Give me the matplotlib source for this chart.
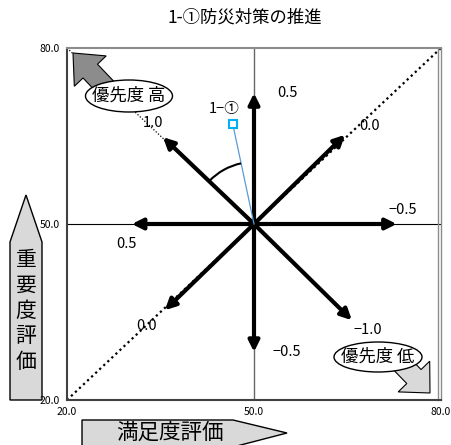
import numpy as np
import matplotlib
matplotlib.use("Agg")
import matplotlib.pyplot as plt
import matplotlib.patches as mpatches
import matplotlib.transforms as mtransforms

plt.rcParams['font.family'] = ['Noto Sans CJK JP', 'DejaVu Sans']

# データ
title = "1-①防災対策の推進"
tick_vals = [20, 50, 80]
tick_labels = ["20.0", "50.0", "80.0"]
center = (50, 50)

# 矢印の先端 (満足度, 重要度) と値ラベル
arrow_x = [50.0, 35.4, 64.6, 72.9, 30.4, 35.7, 65.7, 50.0]
arrow_y = [72.3, 64.8, 65.2, 50.0, 50.0, 35.3, 33.6, 28.2]
arrow_vals = ["0.5", "1.0", "0.0", "−0.5", "0.5", "0.0", "−1.0", "−0.5"]
label_x = [55.3, 33.8, 68.6, 73.9, 29.6, 32.7, 68.3, 55.3]
label_y = [72.3, 67.2, 66.7, 52.4, 46.6, 32.6, 31.9, 28.2]

# 施策の位置
item_name = "1−①"
item_x = 46.6
item_y = 67.0

W, H = 451, 445
fig = plt.figure(figsize=(W / 100, H / 100), dpi=100)
ax = fig.add_axes([67 / W, 1 - 400 / H, 374 / W, 352 / H])
ax.set_xlim(20, 80)
ax.set_ylim(20, 80)

ax.set_xticks(tick_vals)
ax.set_xticklabels(tick_labels)
ax.set_yticks(tick_vals)
ax.set_yticklabels(tick_labels)
ax.tick_params(length=0, labelsize=7.5, pad=5)

for s in ["left", "bottom"]:
    ax.spines[s].set_color("#404040")
    ax.spines[s].set_linewidth(1.5)
ax.spines["top"].set_color("#8c8c8c")
ax.spines["top"].set_linewidth(1.5)
ax.spines["right"].set_color("#8c8c8c")
ax.spines["right"].set_linewidth(1.0)
ax.plot([0.992, 0.992], [0, 1], transform=ax.transAxes, color="#8c8c8c", lw=1.0, clip_on=False)

# 中心線と対角線
ax.axvline(center[0], color="#666666", lw=1.0, zorder=1)
ax.axhline(center[1], color="black", lw=0.8, zorder=1)
ax.plot([20, 80], [20, 80], color="black", lw=1.6, ls=(0, (1, 1.5)), zorder=1)
ax.plot([20, center[0]], [80, center[1]], color="black", lw=0.9, ls=(0, (1, 1.5)), zorder=1)

# 矢印
for x, y in zip(arrow_x, arrow_y):
    ax.annotate("", xy=(x, y), xytext=center,
                arrowprops=dict(arrowstyle="-|>", lw=3, color="black",
                                mutation_scale=16, shrinkA=0, shrinkB=0),
                zorder=3)
for x, y, t in zip(label_x, label_y, arrow_vals):
    ax.text(x, y, t, fontsize=10.5, ha="center", va="center", zorder=4)

# 施策の点
ax.plot([center[0], item_x], [center[1], item_y], color="#5b9bd5", lw=0.9, zorder=4)
ax.plot(item_x, item_y, marker="s", ms=6, mfc="white", mec="#00b0f0", mew=1.5, zorder=5)
ax.text(item_x - 1.4, item_y + 2.6, item_name, fontsize=10.5, ha="center", va="center")

# 角度の弧
p0 = ax.transData.transform(center)
p1 = ax.transData.transform((arrow_x[1], arrow_y[1]))
p2 = ax.transData.transform((item_x, item_y))
a1 = np.degrees(np.arctan2(p1[1] - p0[1], p1[0] - p0[0]))
a2 = np.degrees(np.arctan2(p2[1] - p0[1], p2[0] - p0[0]))
arc_tr = fig.dpi_scale_trans + mtransforms.ScaledTranslation(center[0], center[1], ax.transData)
ax.add_patch(mpatches.Arc((0, 0), 1.24, 1.24, theta1=min(a1, a2), theta2=max(a1, a2),
                          transform=arc_tr, color="black", lw=1.5, zorder=4))

# 画素座標 (左上原点)
px = mtransforms.Affine2D().scale(1, -1).translate(0, H)

# 優先度 高 / 低
fig.add_artist(mpatches.FancyArrow(114, 96, -41, -43, width=20, head_width=44, head_length=25,
                                   length_includes_head=True, transform=px,
                                   facecolor="#8c8c8c", edgecolor="black", lw=0.8, zorder=2))
fig.add_artist(mpatches.Ellipse((129, 96), 87, 32, transform=px, facecolor="white",
                                edgecolor="black", lw=1.0, zorder=3))
fig.text(129 / W, 1 - 96 / H, "優先度 高", fontsize=12.5, ha="center", va="center", zorder=4)

fig.add_artist(mpatches.FancyArrow(390, 352, 40, 41, width=20, head_width=44, head_length=23,
                                   length_includes_head=True, transform=px,
                                   facecolor="#d9d9d9", edgecolor="black", lw=0.8, zorder=2))
fig.add_artist(mpatches.Ellipse((378, 357), 88, 30, transform=px, facecolor="white",
                                edgecolor="black", lw=1.0, zorder=3))
fig.text(378 / W, 1 - 357 / H, "優先度 低", fontsize=12.5, ha="center", va="center", zorder=4)

# 軸ラベルの矢印
fig.add_artist(mpatches.Polygon([(10, 400), (10, 242), (26, 195), (42, 242), (42, 400)],
                                closed=True, transform=px, facecolor="#d9d9d9",
                                edgecolor="black", lw=1.0, zorder=-1))
for i, ch in enumerate("重要度評価"):
    fig.text(26 / W, 1 - (260 + 25.5 * i) / H, ch, fontsize=15, ha="center", va="center")

fig.add_artist(mpatches.Polygon([(82, 447), (82, 420), (233, 420), (287, 433), (233, 447)],
                                closed=True, transform=px, facecolor="#d9d9d9",
                                edgecolor="black", lw=1.0, zorder=-1))
fig.text(170 / W, 1 - 433 / H, "満足度評価", fontsize=15.5, ha="center", va="center")

fig.text(245 / W, 1 - 18 / H, title, fontsize=12.5, ha="center", va="center")

fig.savefig("out.png", dpi=100)
